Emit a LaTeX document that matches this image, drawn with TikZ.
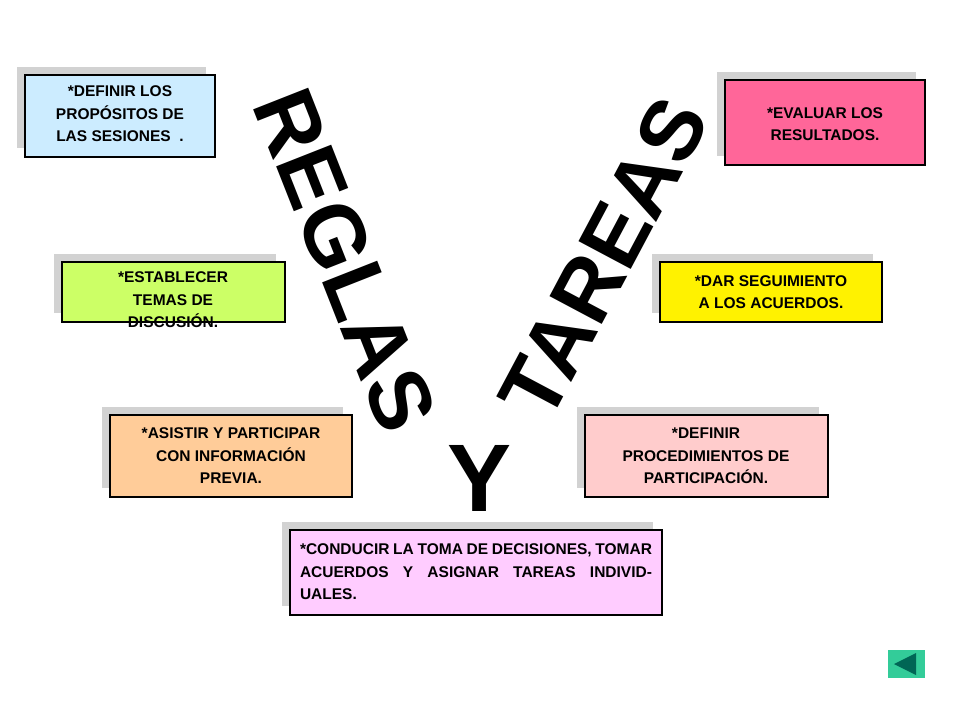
\documentclass[tikz,border=0pt]{standalone}
\usepackage{fontspec}
\setmainfont{Liberation Sans}
\usepackage{xcolor}
\usetikzlibrary{positioning}
\definecolor{cBlue}{HTML}{CCECFF}
\definecolor{cRose}{HTML}{FF6699}
\definecolor{cLime}{HTML}{CCFF66}
\definecolor{cPeach}{HTML}{FFCC99}
\definecolor{cPink}{HTML}{FFCCCC}
\definecolor{cLilac}{HTML}{FFCCFF}
\definecolor{cBtn}{HTML}{33CC99}
\definecolor{cBtnDark}{HTML}{006655}
\begin{document}
\begin{tikzpicture}[x=1pt, y=-1pt,
    back/.style={draw=white, line width=1pt, fill=gray!35},
    task/.style={draw=black, line width=1.4pt, font=\bfseries\fontsize{15.5}{22.5}\selectfont, align=center, inner sep=2pt},
    big/.style={font=\bfseries\fontsize{86}{90}\selectfont}
]
    \useasboundingbox (0,0) rectangle (960,720);
    % shadowed boxes: back panel, front box, text
    \foreach \xa/\ya/\xb/\yb/\col in {25/75/215/157/cBlue, 725/80/925/165/cRose,
        62/262/285/322/cLime, 660/262/882/322/yellow, 110/415/352/497/cPeach,
        585/415/828/497/cPink, 290/530/662/615/cLilac}{
        \fill[back] (\xa-9,\ya-9) rectangle (\xb-9,\yb-9);
        \filldraw[task, fill=\col] (\xa,\ya) rectangle (\xb,\yb);
    }
    \node[task, draw=none] (prop) at (120,114) {*DEFINIR LOS\\PROPÓSITOS DE\\LAS SESIONES~~.};
    \node[task, draw=none] (eval) at (825,124) {*EVALUAR LOS\\RESULTADOS.};
    \node[task, draw=none] (temas) at (173,300) {*ESTABLECER\\TEMAS DE\\DISCUSIÓN.};
    \node[task, draw=none] (segui) at (771,292) {*DAR SEGUIMIENTO\\A LOS ACUERDOS.};
    \node[task, draw=none] (asist) at (231,456) {*ASISTIR Y PARTICIPAR\\CON INFORMACIÓN\\PREVIA.};
    \node[task, draw=none] (proced) at (706,456) {*DEFINIR\\PROCEDIMIENTOS DE\\PARTICIPACIÓN.};
    \node[task, draw=none, align=justify, text width=352pt] (conduc) at (476,572)
        {*CONDUCIR LA TOMA DE DECISIONES, TOMAR ACUERDOS Y ASIGNAR TAREAS INDIVIDUALES.};
    % big words
    \node[big, rotate=-68.5] (reglas) at (345,260) {REGLAS};
    \node[big, rotate=62] (tareas) at (604,258) {TAREAS};
    \node[big, font=\bfseries\fontsize{96}{100}\selectfont] (y) at (480,478) {Y};
    % back button
    \node[fill=cBtn, minimum width=37pt, minimum height=28pt, inner sep=0pt] (btn) at (906,664) {};
    \fill[cBtnDark] ([xshift=-12pt]btn.center) -- ++(22pt,-11pt) -- ++(0,22pt) -- cycle;
\end{tikzpicture}
\end{document}
